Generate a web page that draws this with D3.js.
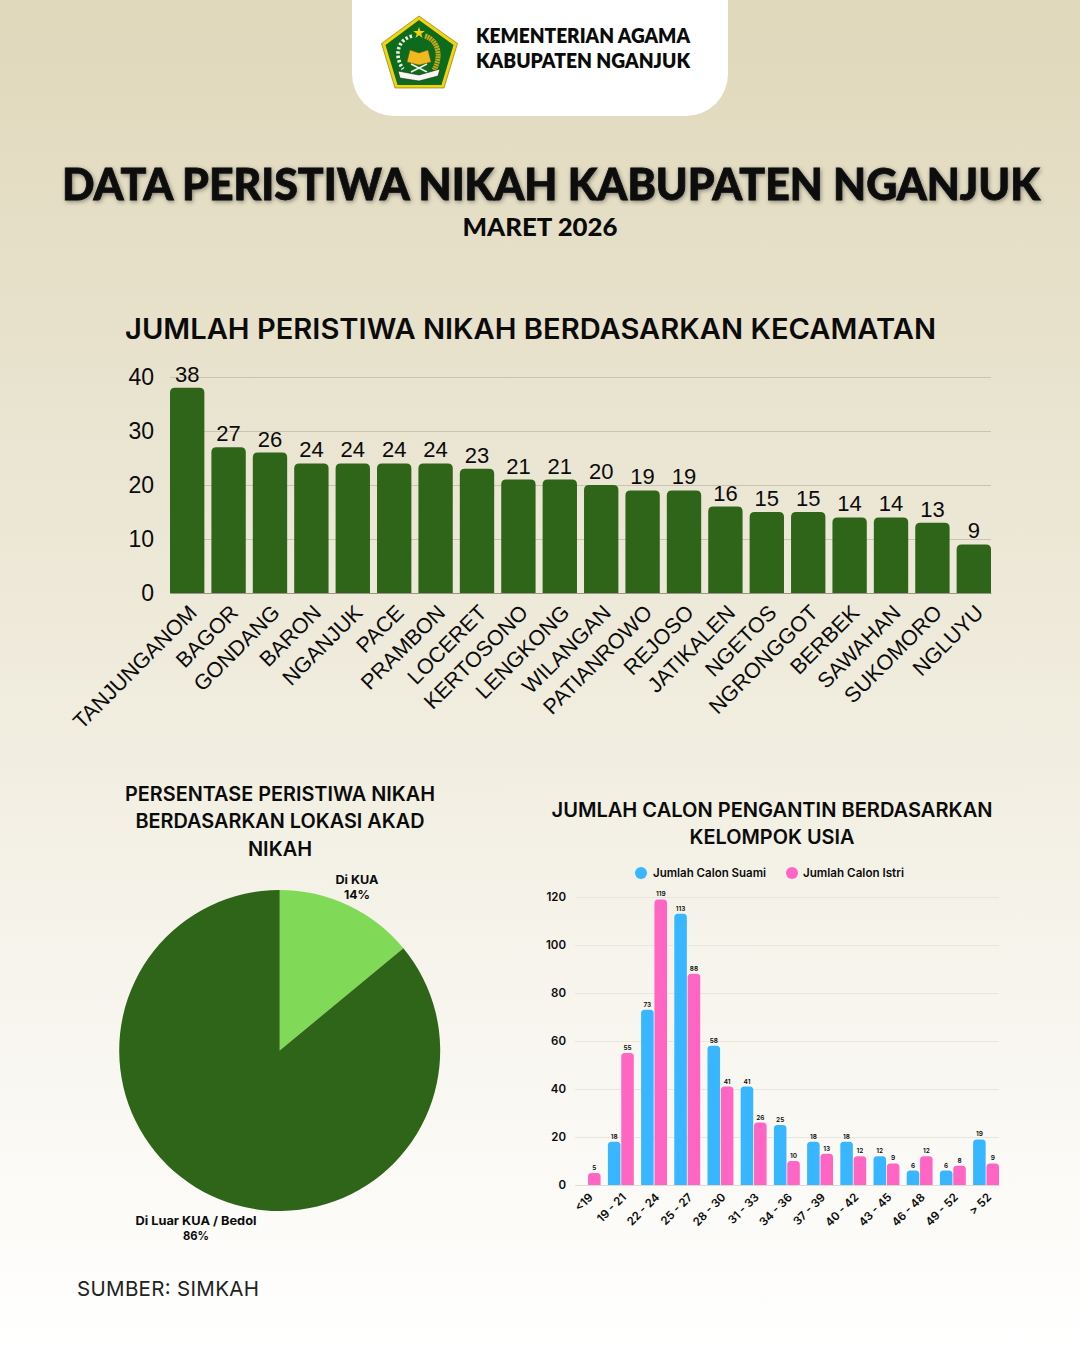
<!DOCTYPE html>
<html>
<head>
<meta charset="utf-8">
<title>Data Peristiwa Nikah Kabupaten Nganjuk</title>
<script src="https://cdn.jsdelivr.net/npm/d3@7"></script>
<style>
  body { margin: 0; background: #fff; }
  svg { display: block; }
</style>
</head>
<body>
<script>
const wi = 1080, hi = 1350;

// data
const kecamatan = ['TANJUNGANOM', 'BAGOR', 'GONDANG', 'BARON', 'NGANJUK', 'PACE', 'PRAMBON', 'LOCERET', 'KERTOSONO', 'LENGKONG', 'WILANGAN', 'PATIANROWO', 'REJOSO', 'JATIKALEN', 'NGETOS', 'NGRONGGOT', 'BERBEK', 'SAWAHAN', 'SUKOMORO', 'NGLUYU'];
const jumlahNikah = [38, 27, 26, 24, 24, 24, 24, 23, 21, 21, 20, 19, 19, 16, 15, 15, 14, 14, 13, 9];
const ticksNikah = [0, 10, 20, 30, 40];

const lokasi = ['Di KUA', 'Di Luar KUA / Bedol'];
const persenLokasi = [14, 86];

const kelompokUsia = ['<19', '19 - 21', '22 - 24', '25 - 27', '28 - 30', '31 - 33', '34 - 36', '37 - 39', '40 - 42', '43 - 45', '46 - 48', '49 - 52', '> 52'];
const calonSuami = [null, 18, 73, 113, 58, 41, 25, 18, 18, 12, 6, 6, 19];
const calonIstri = [5, 55, 119, 88, 41, 26, 10, 13, 12, 9, 12, 8, 9];
const ticksUsia = [0, 20, 40, 60, 80, 100, 120];

const green = '#2f6519', lightGreen = '#80da58', blue = '#38b6ff', pink = '#ff66c4', ink = '#0b0b0b';

const svg = d3.select('body').append('svg')
    .attr('width', wi)
    .attr('height', hi);

const defs = svg.append('defs');
const bg = defs.append('linearGradient').attr('id', 'bg').attr('x1', 0).attr('y1', 0).attr('x2', 0).attr('y2', 1);
bg.append('stop').attr('offset', 0).attr('stop-color', '#e0d8bb');
bg.append('stop').attr('offset', 1).attr('stop-color', '#ffffff');
const shadow = defs.append('filter').attr('id', 'soft').attr('x', '-2%').attr('y', '-30%').attr('width', '104%').attr('height', '160%');
shadow.append('feDropShadow').attr('dx', 1).attr('dy', 1.5).attr('stdDeviation', 2).attr('flood-color', '#000').attr('flood-opacity', 0.4);

svg.append('rect').attr('width', wi).attr('height', hi).attr('fill', 'url(#bg)');

// bar with rounded top corners only
function topRounded(x, y, w, h, r) {
    r = Math.min(r, h, w / 2);
    const p = d3.path();
    p.moveTo(x, y + h);
    p.lineTo(x, y + r);
    p.quadraticCurveTo(x, y, x + r, y);
    p.lineTo(x + w - r, y);
    p.quadraticCurveTo(x + w, y, x + w, y + r);
    p.lineTo(x + w, y + h);
    p.closePath();
    return p.toString();
}

function label(text, x, y, size, weight, family, len) {
    const t = svg.append('text')
        .text(text)
        .attr('x', x)
        .attr('y', y)
        .attr('text-anchor', 'middle')
        .attr('font-family', family)
        .attr('font-size', size)
        .attr('font-weight', weight)
        .attr('fill', ink);
    if (len) t.attr('textLength', len).attr('lengthAdjust', 'spacingAndGlyphs');
    return t;
}

// header card
svg.append('rect').attr('x', 352).attr('y', -60).attr('width', 376).attr('height', 176).attr('rx', 42).attr('fill', '#fff');

const logo = svg.append('g');
const pentagon = (pts) => d3.line()(pts) + 'Z';
logo.append('path').attr('d', pentagon([[419, 16], [457.5, 43.5], [444, 88], [395, 88], [381.5, 43.5]])).attr('fill', '#f4d20d').attr('stroke', '#6d6a12').attr('stroke-width', 0.6);
logo.append('path').attr('d', pentagon([[419, 20], [453.5, 45], [441.5, 85], [397.5, 85], [385.5, 45]])).attr('fill', '#0c6b1c');
logo.append('path').attr('d', d3.symbol().type(d3.symbolStar).size(42)()).attr('transform', 'translate(419,33)').attr('fill', '#f4d20d');
// padi dan kapas
logo.append('path').attr('d', 'M425 36 C438 40 442 56 434 70').attr('fill', 'none').attr('stroke', '#c9a91a').attr('stroke-width', 5).attr('stroke-dasharray', '2 0.6');
logo.append('path').attr('d', 'M412 36 C397 40 394 56 403 69').attr('fill', 'none').attr('stroke', '#f4f2e2').attr('stroke-width', 3.6).attr('stroke-dasharray', '2.4 2');
// kitab
logo.append('path').attr('d', 'M410 50 L419 53 L428 50 L431 62 L419 65 L407 62 Z').attr('fill', '#f1b91f').attr('stroke', '#7b5a10').attr('stroke-width', 0.5);
logo.append('path').attr('d', 'M411 72 L427 64 M427 72 L411 64').attr('stroke', '#f4f2e2').attr('stroke-width', 1.6);
// pita
logo.append('path').attr('d', 'M398 71 L419 75 L440 69 L438 76 L419 81 L400 78 Z').attr('fill', '#f7f7f2').attr('stroke', '#222').attr('stroke-width', 0.6);

svg.append('text').text('KEMENTERIAN AGAMA').attr('x', 476).attr('y', 43).attr('font-family', 'Lato').attr('font-weight', 800).attr('font-size', 20).attr('fill', ink).attr('textLength', 214).attr('lengthAdjust', 'spacingAndGlyphs');
svg.append('text').text('KABUPATEN NGANJUK').attr('x', 476).attr('y', 68).attr('font-family', 'Lato').attr('font-weight', 800).attr('font-size', 20).attr('fill', ink).attr('textLength', 214).attr('lengthAdjust', 'spacingAndGlyphs');

// titles
label('DATA PERISTIWA NIKAH KABUPATEN NGANJUK', 551, 200, 44, 900, 'Lato', 978)
    .attr('stroke', ink).attr('stroke-width', 0.8)
    .attr('filter', 'url(#soft)');
label('MARET 2026', 540, 236, 25, 900, 'Lato', 155);
label('JUMLAH PERISTIWA NIKAH BERDASARKAN KECAMATAN', 530.5, 339, 28, 600, 'Inter', 811);

// bar chart per kecamatan
const x1 = d3.scaleBand().domain(kecamatan).range([170, 991]).paddingInner(0.17).paddingOuter(0);
const y1 = d3.scaleLinear().domain([0, 40]).range([593, 377]);

const axisY1 = svg.append('g')
    .attr('transform', 'translate(170,0)')
    .call(d3.axisLeft(y1).tickValues(ticksNikah).tickSize(-821).tickPadding(16));
axisY1.select('.domain').remove();
axisY1.selectAll('line').attr('stroke', '#c9c3b1').attr('stroke-width', 1);
axisY1.selectAll('text').attr('font-family', 'Liberation Sans').attr('font-size', 23).attr('fill', ink);

svg.append('g').selectAll('path')
    .data(kecamatan)
    .enter()
    .append('path')
    .attr('d', (d, i) => topRounded(x1(d), y1(jumlahNikah[i]), x1.bandwidth(), y1(0) - y1(jumlahNikah[i]), 5))
    .attr('fill', green);

svg.append('g').selectAll('text')
    .data(kecamatan)
    .enter()
    .append('text')
    .text((d, i) => jumlahNikah[i])
    .attr('x', (d) => x1(d) + x1.bandwidth() / 2)
    .attr('y', (d, i) => y1(jumlahNikah[i]) - 6)
    .attr('text-anchor', 'middle')
    .attr('font-family', 'Liberation Sans')
    .attr('font-size', 22)
    .attr('fill', ink);

const axisX1 = svg.append('g')
    .attr('transform', 'translate(0,593)')
    .call(d3.axisBottom(x1).tickSize(0));
axisX1.select('.domain').attr('stroke', '#9a9686');
axisX1.selectAll('text')
    .attr('font-family', 'Liberation Sans')
    .attr('font-size', 21.5)
    .attr('fill', ink)
    .attr('text-anchor', 'end')
    .attr('dy', 0)
    .attr('y', 0)
    .attr('transform', 'translate(11,21) rotate(-45)');

// pie lokasi akad
label('PERSENTASE PERISTIWA NIKAH', 280, 801, 19.5, 600, 'Inter', 310);
label('BERDASARKAN LOKASI AKAD', 280, 828, 19.5, 600, 'Inter', 289);
label('NIKAH', 280, 856, 19.5, 600, 'Inter', 64);

const pie = d3.pie().sort(null)(persenLokasi);
const arc = d3.arc().innerRadius(0).outerRadius(160.5);
svg.append('g')
    .attr('transform', 'translate(279.7,1050.5)')
    .selectAll('path')
    .data(pie)
    .enter()
    .append('path')
    .attr('d', arc)
    .attr('fill', (d, i) => [lightGreen, green][i]);

const pieLabelPos = [[357, 884], [196, 1225]];
lokasi.forEach((d, i) => {
    label(d, pieLabelPos[i][0], pieLabelPos[i][1], 12, 700, 'Inter', i ? 121 : 43);
    label(persenLokasi[i] + '%', pieLabelPos[i][0], pieLabelPos[i][1] + 14.5, 12, 700, 'Inter', 26);
});

// grouped bars per kelompok usia
label('JUMLAH CALON PENGANTIN BERDASARKAN', 772, 817, 19.5, 600, 'Inter', 441);
label('KELOMPOK USIA', 772, 844, 19.5, 600, 'Inter', 165);

const legendItems = [['Jumlah Calon Suami', blue, 641, 653, 113], ['Jumlah Calon Istri', pink, 792, 803, 101]];
legendItems.forEach((d) => {
    svg.append('circle').attr('cx', d[2]).attr('cy', 873).attr('r', 6).attr('fill', d[1]);
    svg.append('text').text(d[0]).attr('x', d[3]).attr('y', 877).attr('font-family', 'Inter').attr('font-size', 11.5).attr('font-weight', 600).attr('fill', ink).attr('textLength', d[4]).attr('lengthAdjust', 'spacingAndGlyphs');
});

const x2 = d3.scaleBand().domain(kelompokUsia).range([574.7, 999]).paddingInner(0.22).paddingOuter(0);
const y2 = d3.scaleLinear().domain([0, 120]).range([1185, 897]);
const barW = x2.bandwidth() / 2 - 0.4;

const axisY2 = svg.append('g')
    .attr('transform', 'translate(575,0)')
    .call(d3.axisLeft(y2).tickValues(ticksUsia).tickSize(-424).tickPadding(9));
axisY2.select('.domain').remove();
axisY2.selectAll('line').attr('stroke', '#e9e6de').attr('stroke-width', 1.2);
axisY2.selectAll('text').attr('font-family', 'Inter').attr('font-size', 11.5).attr('font-weight', 600).attr('fill', ink);

const series = [
    { name: 'suami', values: calonSuami, color: blue, dx: 0 },
    { name: 'istri', values: calonIstri, color: pink, dx: x2.bandwidth() / 2 + 0.4 }
];
series.forEach((s) => {
    const g = svg.append('g').attr('class', s.name);
    const rows = kelompokUsia.filter((d, i) => s.values[i] !== null);
    const val = (d) => s.values[kelompokUsia.indexOf(d)];
    g.selectAll('path')
        .data(rows)
        .enter()
        .append('path')
        .attr('d', (d) => topRounded(x2(d) + s.dx, y2(val(d)), barW, y2(0) - y2(val(d)), 3.5))
        .attr('fill', s.color);
    g.selectAll('text')
        .data(rows)
        .enter()
        .append('text')
        .text(val)
        .attr('x', (d) => x2(d) + s.dx + barW / 2)
        .attr('y', (d) => y2(val(d)) - 3)
        .attr('text-anchor', 'middle')
        .attr('font-family', 'Inter')
        .attr('font-size', 6.5)
        .attr('font-weight', 600)
        .attr('fill', ink);
});

const axisX2 = svg.append('g')
    .attr('transform', 'translate(0,1185)')
    .call(d3.axisBottom(x2).tickSize(0));
axisX2.select('.domain').attr('stroke', '#dedbd3');
axisX2.selectAll('text')
    .attr('font-family', 'Inter')
    .attr('font-size', 11.5)
    .attr('font-weight', 600)
    .attr('fill', ink)
    .attr('text-anchor', 'end')
    .attr('dy', 0)
    .attr('y', 0)
    .attr('transform', 'translate(6,13) rotate(-45)');

svg.append('text').text('SUMBER: SIMKAH').attr('x', 77).attr('y', 1296).attr('font-family', 'Inter').attr('font-size', 20.5).attr('fill', '#222').attr('textLength', 182);
</script>
</body>
</html>
